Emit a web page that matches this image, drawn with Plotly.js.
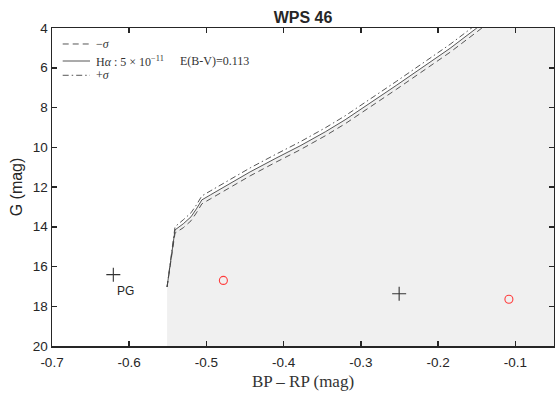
<!DOCTYPE html>
<html>
<head>
<meta charset="utf-8">
<script src="https://cdn.plot.ly/plotly-3.0.1.min.js"></script>
<style>html,body{margin:0;padding:0;background:#fff;}#chart{width:555px;height:396px;}</style>
</head>
<body>
<div id="chart"></div>
<script>
// Track (BP-RP, G)
const trackX   = [-0.551, -0.546, -0.5407, -0.53, -0.52, -0.513, -0.506, -0.495, -0.47, -0.4435, -0.41, -0.3788, -0.346, -0.3205, -0.2535, -0.1845, -0.150, -0.14];
const trackG   = [17.03, 15.7, 14.16, 13.85, 13.5, 13.1, 12.65, 12.4, 11.83, 11.24, 10.55, 9.93, 9.22, 8.62, 6.87, 5.02, 4.0, 3.7];
const plusSigG = [17.03, 15.6, 14.0, 13.65, 13.3, 12.9, 12.45, 12.2, 11.63, 11.04, 10.35, 9.73, 9.02, 8.42, 6.67, 4.82, 3.8, 3.5];
const minusSigG= [17.03, 15.8, 14.32, 14.05, 13.7, 13.3, 12.85, 12.6, 12.03, 11.44, 10.75, 10.13, 9.42, 8.82, 7.07, 5.22, 4.2, 3.9];

// shaded region bounds
const shadeX = [-0.551, -0.05];
const shadeG = [20, 3.7];

// stars
const pgX = [-0.6206], pgG = [16.41];
const crossX = [-0.2505], crossG = [17.37];
const circX = [-0.4781, -0.1084], circG = [16.70, 17.65];
const pgLabel = ["PG"], pgLabelX = [-0.6045], pgLabelG = [17.23];

const xTickVals = [-0.7, -0.6, -0.5, -0.4, -0.3, -0.2, -0.1];
const xTickText = ["-0.7", "-0.6", "-0.5", "-0.4", "-0.3", "-0.2", "-0.1"];
const yTickVals = [4, 6, 8, 10, 12, 14, 16, 18, 20];

// legend entries
const legendNames = ['\u2212<i>σ</i>', 'H<i>α</i> : 5 × 10<sup>\u221211</sup>', '+<i>σ</i>'];
const legendDash = ['6px,4px', 'solid', '6px,3px,1.5px,3px'];
const legendExtra = 'E(B-V)=0.113';

const lineCol = '#444444';
const textCol = '#262626';

const fillX = trackX.concat([shadeX[1], shadeX[1], shadeX[0]]);
const fillY = trackG.concat([shadeG[1], shadeG[0], shadeG[0]]);

const traces = [
  {x: fillX, y: fillY, mode: 'lines', fill: 'toself', fillcolor: '#f0f0f0',
   line: {width: 0, color: 'rgba(0,0,0,0)'}, showlegend: false, hoverinfo: 'skip'},
  {x: trackX, y: minusSigG, mode: 'lines', name: legendNames[0],
   line: {color: lineCol, width: 0.9, dash: legendDash[0]}},
  {x: trackX, y: trackG, mode: 'lines', name: legendNames[1],
   line: {color: lineCol, width: 0.9, dash: legendDash[1]}},
  {x: trackX, y: plusSigG, mode: 'lines', name: legendNames[2],
   line: {color: lineCol, width: 0.9, dash: legendDash[2]}},
  {x: pgX.concat(crossX), y: pgG.concat(crossG), mode: 'markers', showlegend: false,
   marker: {symbol: 'cross-thin-open', size: 10, color: '#333333', line: {color: '#333333', width: 1.1}}},
  {x: circX, y: circG, mode: 'markers', showlegend: false,
   marker: {symbol: 'circle-open', size: 8, color: '#ff3b3b', line: {color: '#ff3b3b', width: 1.1}}}
];

const axisCommon = {
  showline: true, linecolor: '#262626', linewidth: 1.5, mirror: 'ticks',
  ticks: 'inside', ticklen: 5, tickwidth: 1.5, tickcolor: '#262626',
  showgrid: false, zeroline: false,
  tickfont: {family: 'Liberation Sans, Arial, sans-serif', size: 13.5, color: textCol}
};

// manual legend (pixel-based placement in paper units)
const legY = [0.9497, 0.8962, 0.8513];
const shapes = legendDash.map((d, i) => ({
  type: 'line', xref: 'paper', yref: 'paper', x0: 0.0213, x1: 0.0757, y0: legY[i], y1: legY[i],
  line: {color: lineCol, width: 0.9, dash: d}
}));
const annotations = legendNames.map((t, i) => ({
  xref: 'paper', yref: 'paper', x: 0.0843, y: legY[i], xanchor: 'left', yanchor: 'middle',
  text: t, showarrow: false,
  font: {family: 'Liberation Serif, Times New Roman, serif', size: 12, color: '#333'}
}));
annotations.push({xref: 'paper', yref: 'paper', x: 0.25, y: legY[1], xanchor: 'left', yanchor: 'middle',
  text: legendExtra, showarrow: false,
  font: {family: 'Liberation Serif, Times New Roman, serif', size: 12, color: '#333'}});
pgLabel.forEach((t, i) => annotations.push({x: pgLabelX[i], y: pgLabelG[i], text: t, showarrow: false,
  xref: 'x', yref: 'y', font: {family: 'Liberation Sans, Arial, sans-serif', size: 12, color: textCol}}));

const layout = {
  width: 555, height: 396,
  margin: {l: 52, r: 1, t: 28, b: 50},
  paper_bgcolor: '#ffffff', plot_bgcolor: '#ffffff',
  title: {text: '<b>WPS 46</b>', xref: 'paper', x: 0.5, xanchor: 'center', yref: 'container', y: 0.955, yanchor: 'middle',
          font: {family: 'Liberation Sans, Arial, sans-serif', size: 16, color: textCol}},
  xaxis: Object.assign({}, axisCommon, {
    range: [-0.7, -0.05], tickvals: xTickVals, ticktext: xTickText, ticklabelstandoff: 3,
    title: {text: 'BP \u2013 RP (mag)', standoff: 6,
            font: {family: 'Liberation Serif, Times New Roman, serif', size: 17, color: '#333'}}
  }),
  yaxis: Object.assign({}, axisCommon, {
    range: [20, 4], tickvals: yTickVals,
    title: {text: 'G (mag)', standoff: 6,
            font: {family: 'Liberation Sans, Arial, sans-serif', size: 16, color: textCol}}
  }),
  shapes: shapes,
  annotations: annotations,
  showlegend: false
};

Plotly.newPlot('chart', traces, layout, {displayModeBar: false, staticPlot: true});
</script>
</body>
</html>
